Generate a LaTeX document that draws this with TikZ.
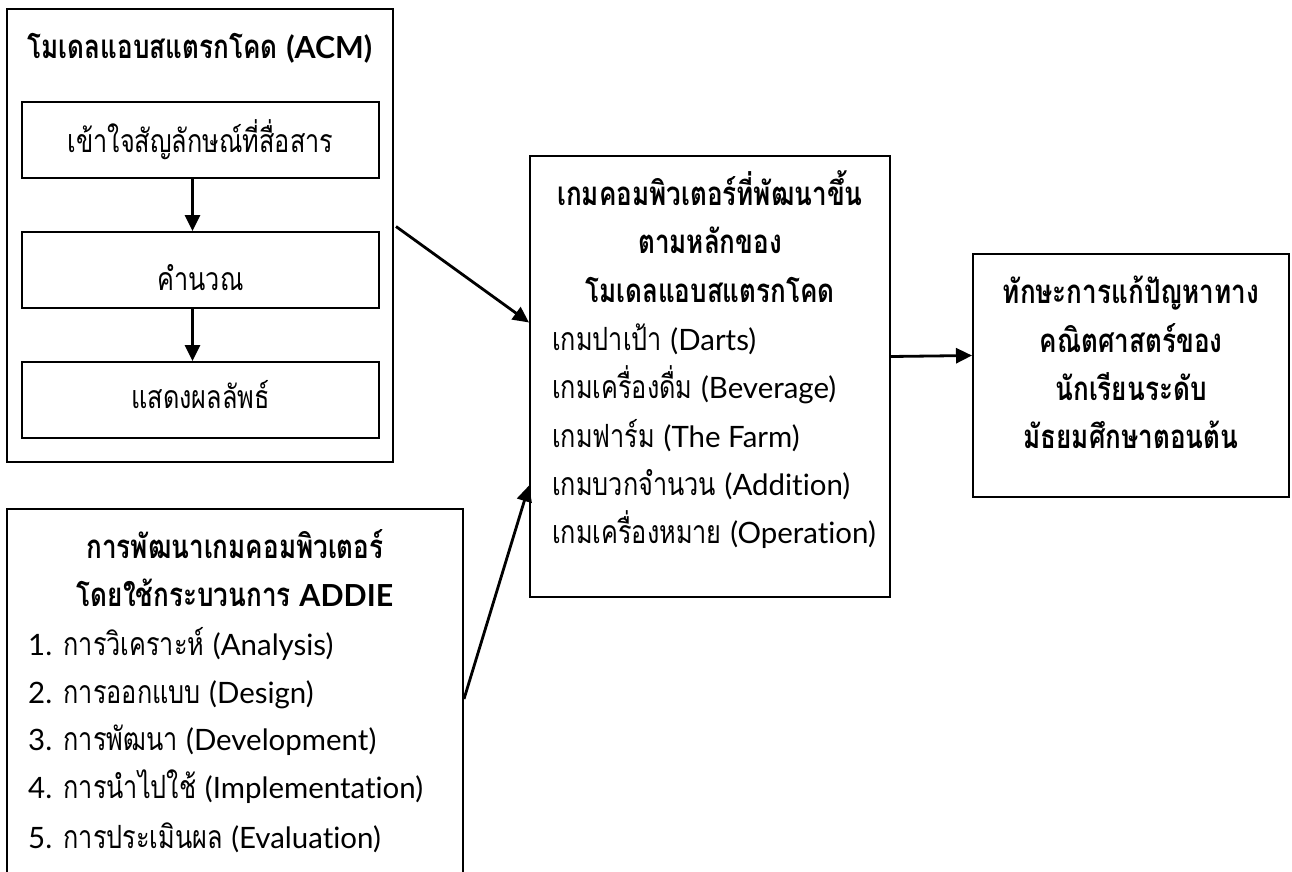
\documentclass[tikz,border=0pt]{standalone}
\usepackage{fontspec}
\setmainfont[Script=Thai, FakeStretch=0.79]{Loma}
\newfontfamily\enfont[Scale=0.92, Ligatures=NoCommon]{Lato}
\newcommand{\en}[1]{{\enfont #1}}
\usetikzlibrary{arrows.meta}

\tikzset{
    box/.style={draw, line width=2pt, inner sep=0pt},
    link/.style={line width=2.8pt, -{Triangle[length=16pt,width=15pt]}},
    txt/.style={inner sep=0pt, font=\fontsize{32}{36}\selectfont},
    head/.style={inner sep=0pt, font=\fontsize{33}{36}\selectfont\bfseries},
}

\begin{document}
\begin{tikzpicture}[x=1pt, y=-1pt]
        \path[use as bounding box, clip] (0,0) rectangle (1292,872);

        % ACM model
        \node[box, minimum width=386pt, minimum height=453pt] (acm) at (200,235.5) {};
        \node[head, anchor=base] (acmtitle) at (200,59) {โมเดลแอบสแตรกโคด \en{(ACM)}};
        \node[box, minimum width=357pt, minimum height=76pt] (sym) at (200.5,140) {};
        \node[box, minimum width=357pt, minimum height=76pt] (calc) at (200.5,270) {};
        \node[box, minimum width=357pt, minimum height=76pt] (show) at (200.5,400) {};
        \node[txt, anchor=base] (symtext) at (200.5,152) {เข้าใจสัญลักษณ์ที่สื่อสาร};
        \node[txt, anchor=base] (calctext) at (200.5,290) {คำนวณ};
        \node[txt, anchor=base] (showtext) at (200.5,408) {แสดงผลลัพธ์};
        \draw[link] ([xshift=-8pt]sym.south) -- ([xshift=-8pt]calc.north);
        \draw[link] ([xshift=-8pt]calc.south) -- ([xshift=-8pt]show.north);

        % ADDIE
        \node[box, minimum width=456pt, minimum height=380pt] (addie) at (235,699) {};
        \node[head, anchor=base] (addie1) at (235,558) {การพัฒนาเกมคอมพิวเตอร์};
        \node[head, anchor=base] (addie2) at (235,606) {โดยใช้กระบวนการ \en{ADDIE}};
        \node[txt, anchor=base west] (step1) at (28,655) {\en{1.} การวิเคราะห์ \en{(Analysis)}};
        \node[txt, anchor=base west] (step2) at (28,703) {\en{2.} การออกแบบ \en{(Design)}};
        \node[txt, anchor=base west] (step3) at (28,750) {\en{3.} การพัฒนา \en{(Development)}};
        \node[txt, anchor=base west] (step4) at (28,798) {\en{4.} การนำไปใช้ \en{(Implementation)}};
        \node[txt, anchor=base west] (step5) at (28,848) {\en{5.} การประเมินผล \en{(Evaluation)}};

        % games
        \node[box, minimum width=360pt, minimum height=441pt] (game) at (710,376.5) {};
        \node[head, anchor=base] (game1) at (710,205) {เกมคอมพิวเตอร์ที่พัฒนาขึ้น};
        \node[head, anchor=base] (game2) at (710,253) {ตามหลักของ};
        \node[head, anchor=base] (game3) at (710,302) {โมเดลแอบสแตรกโคด};
        \node[txt, anchor=base west] (darts) at (552,350) {เกมปาเป้า \en{(Darts)}};
        \node[txt, anchor=base west] (drink) at (552,398) {เกมเครื่องดื่ม \en{(Beverage)}};
        \node[txt, anchor=base west] (farm) at (552,447) {เกมฟาร์ม \en{(The Farm)}};
        \node[txt, anchor=base west] (add) at (552,495) {เกมบวกจำนวน \en{(Addition)}};
        \node[txt, anchor=base west] (oper) at (552,543) {เกมเครื่องหมาย \en{(Operation)}};

        % skill
        \node[box, minimum width=316pt, minimum height=243pt] (skill) at (1131,375.5) {};
        \node[head, anchor=base] (skill1) at (1131,303) {ทักษะการแก้ปัญหาทาง};
        \node[head, anchor=base] (skill2) at (1131,352) {คณิตศาสตร์ของ};
        \node[head, anchor=base] (skill3) at (1131,400) {นักเรียนระดับ};
        \node[head, anchor=base] (skill4) at (1131,448) {มัธยมศึกษาตอนต้น};

        \draw[link] ([xshift=2pt,yshift=9pt]acm.east) -- ([yshift=54pt]game.west);
        \draw[link] (addie.east) -- ([yshift=-109pt]game.west);
        \draw[link] ([yshift=20pt]game.east) -- ([yshift=20pt]skill.west);
    \end{tikzpicture}
\end{document}
